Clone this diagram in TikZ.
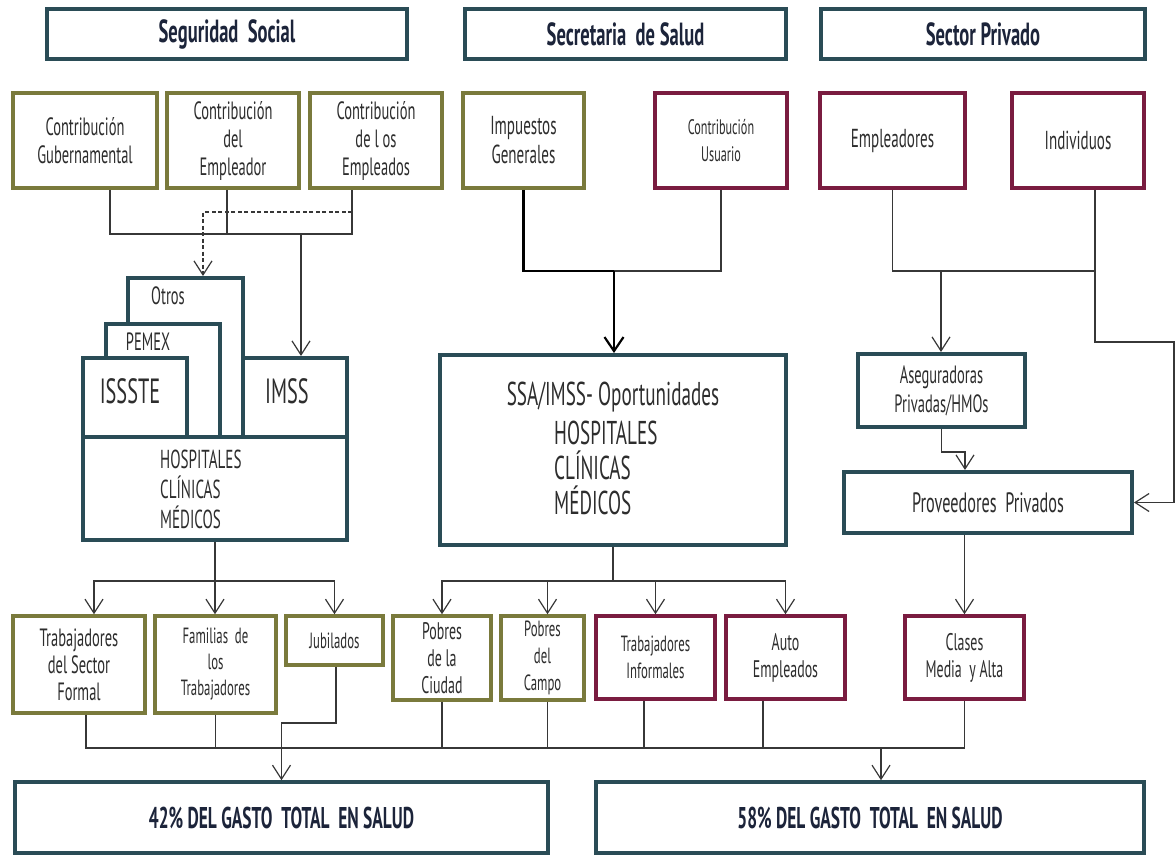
\documentclass[tikz,border=0pt]{standalone}
\usepackage{fontspec}
\setmainfont{PT Sans}[FakeStretch=0.58]
\usetikzlibrary{arrows.meta}
\definecolor{colOlive}{RGB}{122,122,60}
\definecolor{colWine}{RGB}{122,28,64}
\definecolor{colTeal}{RGB}{42,76,86}
\definecolor{colText}{RGB}{45,45,45}
\definecolor{colHead}{RGB}{28,36,58}
\definecolor{colLine}{RGB}{55,55,55}
\newcommand\fs[2]{\fontsize{#1}{#2}\selectfont}
\begin{document}
\begin{tikzpicture}[x=1pt,y=-1pt,
  basebox/.style={fill=white, inner sep=0pt, align=center, text=colText, font=\fs{25}{28}},
  gbox/.style={basebox, draw=colOlive, line width=3.5pt},
  rbox/.style={basebox, draw=colWine, line width=3.5pt},
  tbox/.style={basebox, draw=colTeal, line width=4pt},
  hbox/.style={tbox, line width=3.5pt, text=colHead, font=\fs{32}{34}\bfseries},
  lbl/.style={inner sep=0pt, text=colText, align=left},
  conn/.style={draw=colLine, line width=1.2pt},
  thickconn/.style={draw=black, line width=2.4pt},
  arr/.style={conn, -{Straight Barb[length=14pt,width=18pt,line width=1.2pt]}},
  thickarr/.style={thickconn, -{Straight Barb[length=14pt,width=19pt,line width=2.2pt]}},
  dasharr/.style={arr, dashed, dash pattern=on 4pt off 2.5pt}
]
\useasboundingbox (0,0) rectangle (1176,855);

% headers
\node[hbox, minimum width=360, minimum height=50] (hSS) at (227,34) {Seguridad\ \ Social};
\node[hbox, minimum width=321, minimum height=50] (hSA) at (625.5,34) {Secretaria\ \ de Salud};
\node[hbox, minimum width=324, minimum height=50] (hSP) at (983,34) {Sector Privado};

% top row
\node[gbox, minimum width=144, minimum height=95] (cGub) at (85,140.5) {Contribución\\Gubernamental};
\node[gbox, minimum width=132, minimum height=95] (cEmp) at (233,140.5) {Contribución\\del\\Empleador};
\node[gbox, minimum width=132, minimum height=95] (cEmps) at (376,140.5) {Contribución\\de l os\\Empleados};
\node[gbox, minimum width=121, minimum height=95, font=\fs{26}{29}] (imp) at (523.5,140.5) {Impuestos\\Generales};
\node[rbox, minimum width=132, minimum height=95, font=\fs{21}{27}] (usu) at (721,140.5) {Contribución\\Usuario};
\node[rbox, minimum width=145, minimum height=95, font=\fs{26}{29}] (emp) at (892.5,140.5) {Empleadores};
\node[rbox, minimum width=132, minimum height=95, font=\fs{26}{29}] (ind) at (1078,140.5) {Individuos};

% seguridad social block
\node[tbox, minimum width=115, minimum height=159] (otros) at (185.5,357.5) {};
\node[tbox, minimum width=114, minimum height=113] (pemex) at (163,380.5) {};
\node[tbox, minimum width=104, minimum height=79] (issste) at (135,397.5) {};
\node[tbox, minimum width=104, minimum height=79] (imss) at (295,397.5) {};
\node[tbox, minimum width=264, minimum height=103] (hosp) at (215,488.5) {};
\node[lbl, font=\fs{25}{28}] (tOtros) at (168,296) {Otros};
\node[lbl, font=\fs{25}{28}] (tPemex) at (148,342) {PEMEX};
\node[lbl, font=\fs{35}{38}] (tIssste) at (130,391) {ISSSTE};
\node[lbl, font=\fs{35}{38}] (tImss) at (287,391) {IMSS};
\node[lbl, font=\fs{26}{30}, anchor=west] (tHosp) at (160,489) {HOSPITALES\\CLÍNICAS\\MÉDICOS};

% secretaria block
\node[tbox, minimum width=346, minimum height=190] (ssa) at (613,450) {};
\node[lbl, font=\fs{33}{36}] (tSSA) at (613,397) {SSA/IMSS- Oportunidades};
\node[lbl, font=\fs{33}{35}, anchor=west] (tSSA2) at (554,468) {HOSPITALES\\CLÍNICAS\\MÉDICOS};

% private block
\node[tbox, minimum width=167, minimum height=73, font=\fs{25}{29}] (aseg) at (941.5,390.5) {Aseguradoras\\Privadas/HMOs};
\node[tbox, minimum width=288, minimum height=61, font=\fs{28}{30}] (prov) at (988,502.5) {Proveedores\ \ Privados};

% beneficiaries
\node[gbox, minimum width=132, minimum height=97, font=\fs{25}{27}] (tsf) at (79,664.5) {Trabajadores\\del Sector\\Formal};
\node[gbox, minimum width=121, minimum height=97, font=\fs{22}{26}] (fam) at (215.5,664.5) {Familias\ \ de\\los\\Trabajadores};
\node[gbox, minimum width=97, minimum height=49, font=\fs{22}{26}] (jub) at (334.5,640.5) {Jubilados};
\node[gbox, minimum width=98, minimum height=84, font=\fs{24}{27}] (pciu) at (442,658) {Pobres\\de la\\Ciudad};
\node[gbox, minimum width=83, minimum height=84, font=\fs{22}{27}] (pcam) at (542.5,658) {Pobres\\del\\Campo};
\node[rbox, minimum width=119, minimum height=83, font=\fs{22}{27}] (tinf) at (655.5,657.5) {Trabajadores\\Informales};
\node[rbox, minimum width=119, minimum height=83, font=\fs{24}{27}] (auto) at (785.5,657.5) {Auto\\Empleados};
\node[rbox, minimum width=119, minimum height=83, font=\fs{24}{27}] (clases) at (964.5,657.5) {Clases\\Media\ \ y Alta};

% totals
\node[hbox, minimum width=533, minimum height=71, font=\fs{30}{32}\bfseries] (p42) at (281.5,817.5) {42\% DEL GASTO\ \ TOTAL\ \ EN SALUD};
\node[hbox, minimum width=548, minimum height=71, font=\fs{30}{32}\bfseries] (p58) at (870,817.5) {58\% DEL GASTO\ \ TOTAL\ \ EN SALUD};

\foreach \n in {hSS,hSA,hSP,p42,p58}
  \draw[colTeal, line width=3pt] ([yshift=1.5pt]\n.south west) -- ([yshift=1.5pt]\n.south east);

% junctions
\coordinate (jSS) at (301,234);
\coordinate (jD) at (352,212);
\coordinate (jSA) at (614,271);
\coordinate (jSP) at (941,271);
\coordinate (jI) at (1095,271);
\coordinate (jI2) at (1174,342);
\coordinate (jH) at (215,581);
\coordinate (jM) at (613,581);
\coordinate (jJ) at (281.5,723);
\coordinate (jB) at (881,748);

% seguridad social connectors
\draw[conn] ([xshift=25]cGub.south) |- (jSS) -| ([xshift=-24]cEmps.south);
\draw[conn] ([xshift=-6]cEmp.south) -- ([xshift=-6]cEmp.south |- jSS);
\draw[arr] (jSS) -- (jSS |- imss.north);
\draw[dasharr] (jD) -| ([xshift=17.5]otros.north);

% secretaria connectors
\draw[thickconn] (imp.south) |- (jSA);
\draw[conn] (usu.south) |- (jSA);
\draw[thickarr] (jSA) -- (jSA |- ssa.north);

% private connectors
\draw[conn] (emp.south) |- (jI);
\draw[arr] ([xshift=17]ind.south) |- (jI2) |- (prov.east);
\draw[arr] (jSP) -- (jSP |- aseg.north);
\draw[arr] (aseg.south) -- ++(0,23) -| ([xshift=-23]prov.north);
\draw[arr] (prov.south -| clases.north) -- (clases.north);

% distribution
\draw[conn] (hosp.south) -- (jH);
\draw[arr] (jH) -| ([xshift=15]tsf.north);
\draw[arr] (jH) -- (jH |- fam.north);
\draw[arr] (jH) -| (jub.north);
\draw[conn] (ssa.south) -- (jM);
\draw[arr] (jM) -| (pciu.north);
\draw[arr] (jM) -| ([xshift=5]pcam.north);
\draw[arr] (jM) -| (tinf.north);
\draw[arr] (jM) -| (auto.north);

% collection
\draw[conn] ([xshift=7]tsf.south) |- (jB) -| (clases.south);
\draw[conn] (fam.south) -- (fam.south |- jB);
\draw[conn] (pciu.south) -- (pciu.south |- jB);
\draw[conn] ([xshift=5]pcam.south) -- ([xshift=5]pcam.south |- jB);
\draw[conn] ([xshift=-11.5]tinf.south) -- ([xshift=-11.5]tinf.south |- jB);
\draw[conn] ([xshift=-22.5]auto.south) -- ([xshift=-22.5]auto.south |- jB);
\draw[arr] ([xshift=1.5]jub.south) |- (jJ) -- (jJ |- p42.north);
\draw[arr] (jB) -- (jB |- p58.north);
\end{tikzpicture}
\end{document}
